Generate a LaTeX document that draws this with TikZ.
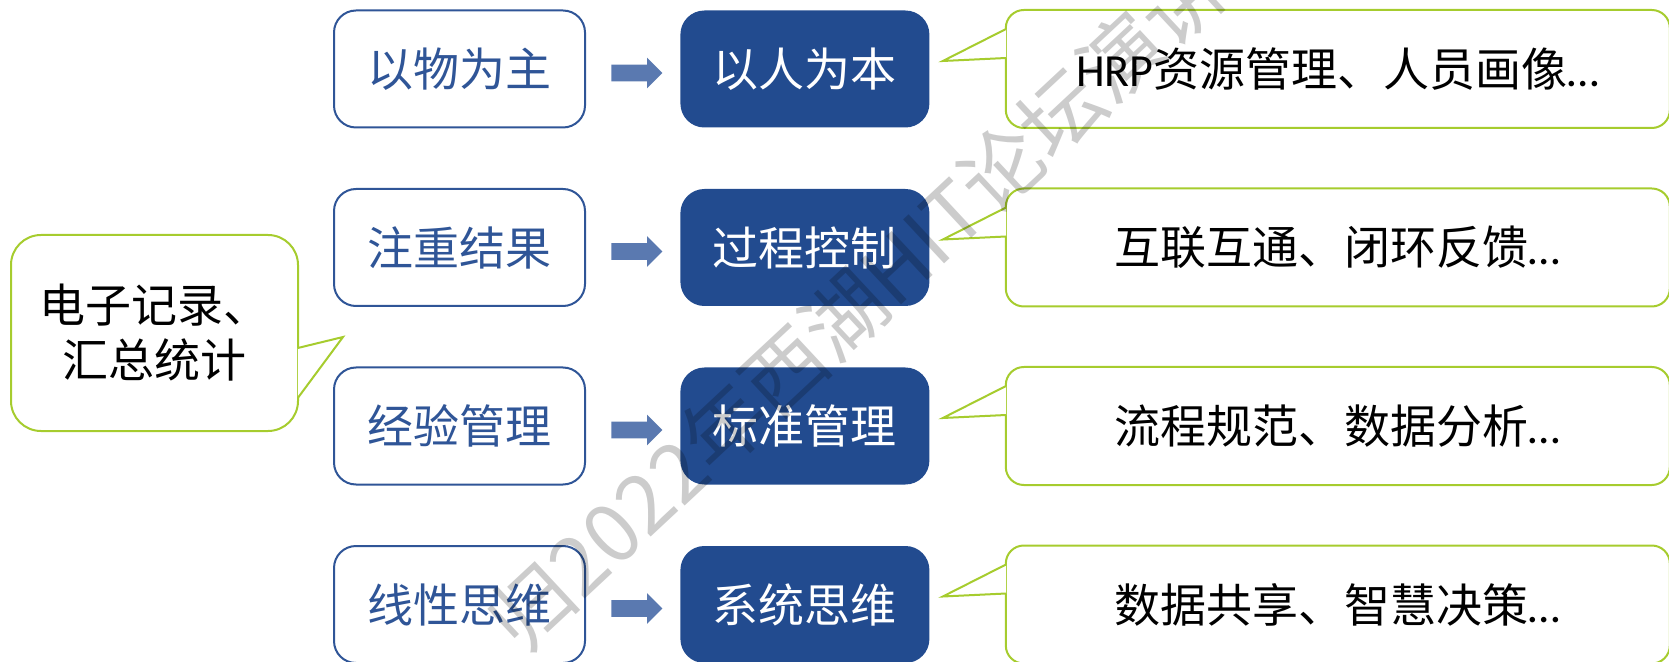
\documentclass[tikz,border=0pt]{standalone}
\usepackage{fontspec}
\setmainfont{Noto Sans CJK SC}
\newfontfamily\latfont{Carlito}
\usetikzlibrary{positioning,shapes.arrows}
\definecolor{deepblue}{RGB}{34,75,143}
\definecolor{lineblue}{RGB}{47,85,151}
\definecolor{arrowblue}{RGB}{90,121,176}
\definecolor{limegreen}{RGB}{166,204,46}

\begin{document}
\begin{tikzpicture}[x=0.5pt, y=-0.5pt,
  every node/.style = {font=\fontsize{23}{27.5}\selectfont},
  oldbox/.style = {draw=lineblue, line width=1pt, rounded corners=11pt,
    text=lineblue, minimum width=125.5pt, minimum height=58.5pt},
  newbox/.style = {fill=deepblue, rounded corners=12pt, text=white,
    minimum width=124.5pt, minimum height=58.5pt},
  goarrow/.style = {single arrow, fill=arrowblue, inner sep=4pt,
    minimum height=25.5pt, single arrow head extend=3.5pt},
  note/.style = {draw=limegreen, line width=1pt, rounded corners=9pt,
    fill=white, minimum width=332pt, minimum height=59pt},
  notetip/.style = {draw=limegreen, line width=1pt, fill=white},
  memo/.style = {draw=limegreen, line width=1pt, rounded corners=15pt,
    align=center, minimum width=143.5pt, minimum height=98pt},
  wmark/.style = {text=black, opacity=0.2, font=\fontsize{41}{41}\selectfont}]
  \useasboundingbox (0,0) rectangle (1669,662);

  % left callout
  \node[memo] (memo) at (154.5,333) {电子记录、\\汇总统计};
  \path[notetip] ([xshift=-0.6pt,yshift=-7.5pt]memo.east)
    -- ([xshift=22pt,yshift=-2pt]memo.east)
    -- ([xshift=-0.6pt,yshift=-32.5pt]memo.east);

  % row 1
  \node[oldbox] (old1) at (459.5,69) {以物为主};
  \node[goarrow, right=12.5pt of old1, yshift=-2pt] (go1) {};
  \node[newbox, right=47pt of old1] (new1) {以人为本};
  \node[note, right=37.5pt of new1] (note1) {{\latfont HRP}资源管理、人员画像{\latfont …}};
  \path[notetip] ([xshift=0.6pt,yshift=20pt]note1.west)
    -- ([xshift=-31pt,yshift=4pt]note1.west)
    -- ([xshift=0.6pt,yshift=5.5pt]note1.west);

  % row 2
  \node[oldbox] (old2) at (459.5,247.5) {注重结果};
  \node[goarrow, right=12.5pt of old2, yshift=-2pt] (go2) {};
  \node[newbox, right=47pt of old2] (new2) {过程控制};
  \node[note, right=37.5pt of new2] (note2) {互联互通、闭环反馈{\latfont …}};
  \path[notetip] ([xshift=0.6pt,yshift=20pt]note2.west)
    -- ([xshift=-31pt,yshift=4pt]note2.west)
    -- ([xshift=0.6pt,yshift=5.5pt]note2.west);

  % row 3
  \node[oldbox] (old3) at (459.5,426) {经验管理};
  \node[goarrow, right=12.5pt of old3, yshift=-2pt] (go3) {};
  \node[newbox, right=47pt of old3] (new3) {标准管理};
  \node[note, right=37.5pt of new3] (note3) {流程规范、数据分析{\latfont …}};
  \path[notetip] ([xshift=0.6pt,yshift=20pt]note3.west)
    -- ([xshift=-31pt,yshift=4pt]note3.west)
    -- ([xshift=0.6pt,yshift=5.5pt]note3.west);

  % row 4
  \node[oldbox] (old4) at (459.5,604.5) {线性思维};
  \node[goarrow, right=12.5pt of old4, yshift=-2pt] (go4) {};
  \node[newbox, right=47pt of old4] (new4) {系统思维};
  \node[note, right=37.5pt of new4] (note4) {数据共享、智慧决策{\latfont …}};
  \path[notetip] ([xshift=0.6pt,yshift=20pt]note4.west)
    -- ([xshift=-31pt,yshift=4pt]note4.west)
    -- ([xshift=0.6pt,yshift=5.5pt]note4.west);

  % watermark
  \begin{scope}
    \clip (0,0) rectangle (1669,662);
    \node[wmark, rotate=43] (wm) at (886,276) {归2022年西湖HIT论坛演讲者};
  \end{scope}
\end{tikzpicture}
\end{document}
